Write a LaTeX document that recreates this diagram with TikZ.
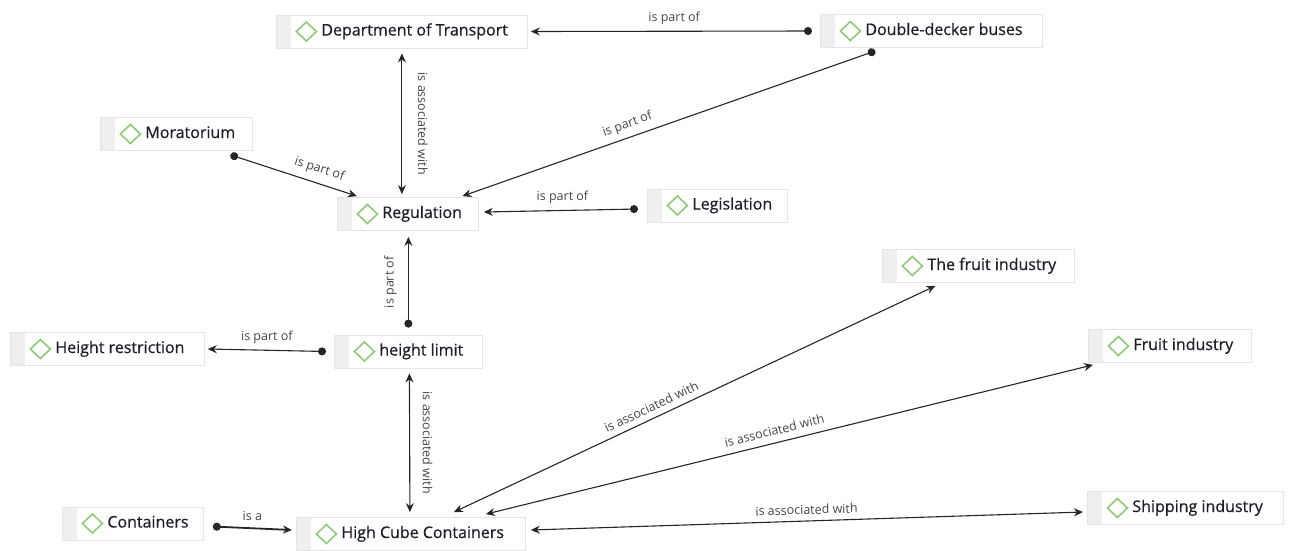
\documentclass[tikz,border=0pt]{standalone}
\usepackage{fontspec}
\setmainfont{Open Sans}
\newfontfamily\conceptfont[FakeBold=0.5]{Open Sans}
\usetikzlibrary{arrows.meta,calc}

\definecolor{stripgray}{HTML}{EFEFEF}
\definecolor{boxline}{HTML}{E4E4E4}
\definecolor{leafgreen}{HTML}{8DCB79}
\definecolor{inkline}{HTML}{262626}
\definecolor{labelink}{HTML}{4A4440}
\definecolor{nodeink}{HTML}{1E1E2A}

% concept text: fixed box width, text starts after the strip and the diamond
\newcommand\conceptlabel[2]{\makebox[#1pt][l]{\hspace*{45pt}#2}}

\tikzset{
  concept/.style={draw=boxline, line width=0.8pt, fill=white, anchor=west,
    inner xsep=0pt, inner ysep=0pt, minimum height=33pt,
    text height=12pt, text depth=4pt,
    font=\conceptfont\fontsize{16}{18}\selectfont, text=nodeink,
    path picture={
      \fill[stripgray] (path picture bounding box.north west)
        rectangle ([xshift=15pt]path picture bounding box.south west);
      \draw[leafgreen, line width=1.6pt]
        ([xshift=20pt]path picture bounding box.west)
        -- ++(10,-9.5) -- ++(10,9.5) -- ++(-10,9.5) -- cycle;
    }},
  link/.style={draw=inkline, line width=1.1pt,
    {Circle[length=8pt]}-{Stealth[length=9pt,width=8pt]}},
  assoc/.style={draw=inkline, line width=1.1pt,
    {Stealth[length=9pt,width=8pt]}-{Stealth[length=9pt,width=8pt]}},
  lbl/.style={font=\fontsize{12.5}{14}\selectfont, text=labelink, inner sep=1pt},
}

\begin{document}
\begin{tikzpicture}[x=1pt, y=-1pt]
\useasboundingbox (0,0) rectangle (1291,550);

% concepts
\node[concept] (dot)  at (276,31.5)  {\conceptlabel{251}{Department of Transport}};
\node[concept] (ddb)  at (820,31)    {\conceptlabel{222}{Double-decker buses}};
\node[concept] (mor)  at (100,134)   {\conceptlabel{152}{Moratorium}};
\node[concept] (reg)  at (337,214)   {\conceptlabel{141}{Regulation}};
\node[concept] (leg)  at (647,205.5) {\conceptlabel{140}{Legislation}};
\node[concept] (tfi)  at (882,266)   {\conceptlabel{192}{The fruit industry}};
\node[concept] (fi)   at (1088,346)  {\conceptlabel{163}{Fruit industry}};
\node[concept] (hr)   at (10,349)    {\conceptlabel{194}{Height restriction}};
\node[concept] (hl)   at (334,351.5) {\conceptlabel{148}{height limit}};
\node[concept] (cont) at (62,523.5)  {\conceptlabel{141}{Containers}};
\node[concept] (hcc)  at (296,534)   {\conceptlabel{229}{High Cube Containers}};
\node[concept] (si)   at (1087,508)  {\conceptlabel{196}{Shipping industry}};

% part-of links
\draw[link] ($(ddb.west)+(-8,0)$) -- ($(dot.east)+(3,0)$)
  node[lbl, pos=0.49, above=5pt] {is part of};
\draw[link] ($(ddb.south)+(-56,3)$) -- ($(reg.north)+(54.5,-1)$)
  node[lbl, pos=0.59, sloped, above=5pt] {is part of};
\draw[link] ($(mor.south)+(54,4)$) -- ($(reg.north)+(-51,-1)$)
  node[lbl, pos=0.67, sloped, above=6pt] {is part of};
\draw[link] ($(leg.west)+(-9,3.5)$) -- ($(reg.east)+(5,-2)$)
  node[lbl, pos=0.49, above=5pt] {is part of};
\draw[link] ($(hl.north)+(0,-7)$) -- ($(reg.south)+(0.5,6)$)
  node[lbl, midway, xshift=-18pt, rotate=90] {is part of};
\draw[link] ($(hl.west)+(-8,0)$) -- ($(hr.east)+(3,0)$)
  node[lbl, midway, above=5pt] {is part of};
\draw[link, line width=1.8pt] ($(cont.east)+(9,3)$) -- ($(hcc.west)+(-4,-4)$)
  node[lbl, midway, above=6pt] {is a};

% association links
\draw[assoc] ($(dot.south)+(0,5)$) -- ($(reg.north)+(-6,-3)$)
  node[lbl, midway, xshift=21pt, rotate=-90] {is associated with};
\draw[assoc] ($(hl.south)+(1,5)$) -- ($(hcc.north)+(-1,-5)$)
  node[lbl, midway, xshift=18pt, rotate=-90] {is associated with};
\draw[assoc] ($(hcc.north)+(43,-5)$) -- ($(tfi.south)+(-43,3)$)
  node[lbl, pos=0.42, sloped, above=5pt] {is associated with};
\draw[assoc] ($(hcc.north)+(75,-3)$) -- ($(fi.south west)+(5,2)$)
  node[lbl, pos=0.48, sloped, above=6pt] {is associated with};
\draw[assoc] ($(hcc.east)+(5,-4)$) -- ($(si.west)+(-4,4)$)
  node[lbl, midway, sloped, above=5pt] {is associated with};
\end{tikzpicture}
\end{document}
